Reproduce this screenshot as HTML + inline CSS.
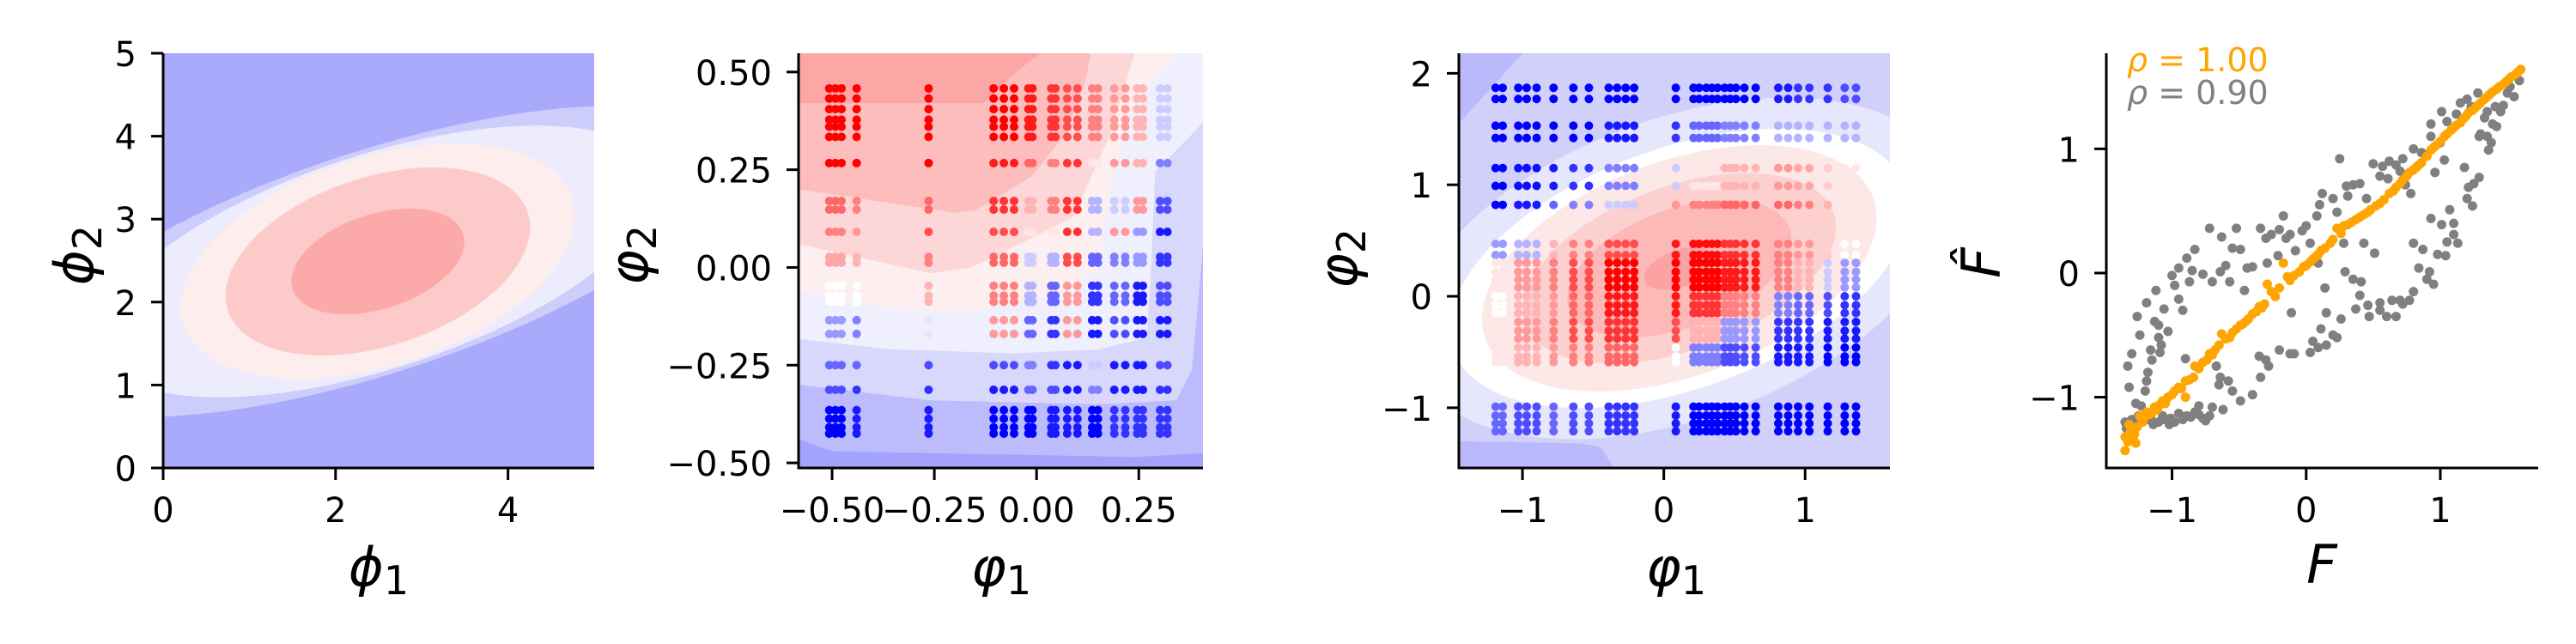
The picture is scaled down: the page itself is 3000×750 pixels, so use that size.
<!DOCTYPE html>
<html><head><meta charset="utf-8"><style>
html,body{margin:0;padding:0;background:#fff;}
svg{display:block;}
text{font-family:"DejaVu Sans","Liberation Sans",sans-serif;}
</style></head><body>
<svg id="fig" width="3000" height="750" viewBox="0 0 3000 750" xmlns="http://www.w3.org/2000/svg"></svg>
<script>
// ---------- data ----------
const p1Center = [2.49, 2.49];
const p1LevelA = [4.28, 3.38, 2.37, 1.83, 1.04];
const p1LevelB = [1.29, 1.24, 1.21, 0.98, 0.55];
const p1Colors = ['#cdcdfc', '#ececfd', '#fdeded', '#fdcaca', '#fca9a9'];
const p1XTicks = [0, 2, 4];
const p1YTicks = [0, 1, 2, 3, 4, 5];

const p2Bounds = [
  [[-0.582,-0.44],[-0.5,-0.47],[0.24,-0.485],[0.407,-0.475]],
  [[-0.582,-0.3],[-0.26,-0.34],[0.15,-0.35],[0.342,-0.34],[0.38,-0.26],[0.407,0.054]],
  [[-0.582,-0.183],[-0.36,-0.209],[-0.06,-0.22],[0.15,-0.21],[0.27,-0.18],[0.28,0.0],[0.29,0.245],[0.407,0.37]],
  [[-0.582,-0.06],[-0.36,-0.104],[-0.16,-0.115],[0.05,-0.07],[0.15,0.0],[0.19,0.245],[0.24,0.42],[0.342,0.548]],
  [[-0.582,0.06],[-0.26,-0.015],[-0.16,0.0],[-0.012,0.075],[0.09,0.13],[0.18,0.34],[0.24,0.548]],
  [[-0.582,0.2],[-0.2,0.14],[-0.15,0.146],[-0.012,0.233],[0.07,0.34],[0.12,0.48],[0.133,0.548]],
  [[-0.582,0.42],[-0.13,0.42],[-0.05,0.5],[0.01,0.548]]
];
const p2BandColors = ['#a3a3fb','#bcbcfd','#d8d8fd','#efeffd','#fdefef','#fdd7d7','#fdbdbd','#fca6a6'];
const p2ColGroups = [[-0.507,-0.492,-0.477],[-0.44],[-0.264],[-0.105,-0.08,-0.055],[-0.02,-0.01],[0.036,0.046],[0.075,0.10],[0.136,0.15],[0.19,0.217],[0.246,0.26],[0.302,0.32]];
const p2RowGroups = [[0.458,0.432,0.405,0.378,0.36,0.334],[0.267],[0.17,0.148],[0.091],[0.027,0.012],[-0.047,-0.072,-0.088],[-0.135,-0.17],[-0.25],[-0.313],[-0.365,-0.387,-0.409,-0.425]];
const p2Values = [
  [1,1,1,1,0.9,0.8,0.7,0.5,0.4,0.3,-0.2],
  [1,1,1,0.9,0.6,0.5,0.8,0.1,0.4,0.3,-0.5],
  [0.6,0.5,0.6,0.8,0.3,0.5,0.8,-0.3,-0.2,0.4,-0.7],
  [0.5,0.4,0.7,0.7,0.1,0.1,0.8,-0.3,0.4,-0.4,-0.9],
  [0.35,0.3,0.5,0.6,-0.2,-0.3,0.7,-0.6,-0.5,-0.4,-0.8],
  [0.0,0.0,0.3,0.5,-0.3,-0.6,0.4,-0.8,-0.6,-0.9,-0.7],
  [-0.4,-0.5,-0.1,0.4,-0.6,-0.8,0.4,-0.9,-0.7,-0.9,-0.9],
  [-0.6,-0.6,-0.7,-0.7,-0.5,-0.8,-0.9,-0.2,-0.9,-0.9,-0.7],
  [-0.7,-0.8,-0.8,-0.9,-0.6,-0.7,-0.9,-0.5,-0.9,-0.9,-0.8],
  [-1,-0.9,-0.9,-1,-1,-0.9,-0.9,-1,-0.8,-0.8,-0.8]
];
const p2XTicks = [-0.5, -0.25, 0, 0.25];
const p2XLabels = ['\u22120.50','\u22120.25','0.00','0.25'];
const p2YTicks = [-0.5, -0.25, 0, 0.25, 0.5];
const p2YLabels = ['\u22120.50','\u22120.25','0.00','0.25','0.50'];

const p3Center = [0.11, 0.25];
const p3LevelA = [2.0, 1.70, 1.46, 1.16, 0.83, 0.26];
const p3LevelB = [1.06, 0.85, 0.76, 0.58, 0.42, 0.13];
const p3Colors = ['#e6e6fd', '#ffffff', '#fde8e8', '#fdd0d0', '#fdb8b8', '#fca2a2'];
const p3Corners = [
  [[-1.45,-1.54],[-1.45,-1.3],[-0.6,-1.32],[-0.45,-1.35],[-0.35,-1.54]],
  [[-1.45,2.18],[-1.0,2.18],[-1.45,1.55]]
];
const p3ColGroups = [[-1.19,-1.14],[-1.03,-0.97,-0.90],[-0.78],[-0.64,-0.53],[-0.39,-0.33,-0.27,-0.21],[0.085],[0.21,0.25,0.30,0.34,0.38],[0.43,0.47,0.51,0.57,0.65],[0.81,0.88],[0.95,1.03],[1.16],[1.28,1.36]];
const p3RowGroups = [[1.87,1.77],[1.53,1.42],[1.15,0.99],[0.82],[0.47,0.37],[0.30,0.22,0.15,0.08],[0.0,-0.08,-0.15],[-0.23,-0.31,-0.38],[-0.46,-0.54,-0.59],[-0.99,-1.07,-1.14,-1.21]];
const p3Values = [
  [-1,-1,-1,-1,-1,-1,-1,-1,-0.9,-0.8,-0.8,-0.7],
  [-1,-1,-1,-1,-0.9,-0.8,-0.6,-0.5,-0.3,-0.3,-0.3,-0.3],
  [-1,-0.95,-0.9,-0.8,-0.5,-0.2,0.1,0.3,0.4,0.35,0.2,0.1],
  [-1,-0.9,-0.6,-0.5,-0.2,0.4,0.5,0.6,0.6,0.5,0.3,0.1],
  [-0.4,-0.3,0.3,0.5,0.7,0.9,0.95,0.8,0.5,0.4,0.2,0.0],
  [0.1,0.4,0.5,0.7,1,1,1,0.9,0.5,0.3,-0.2,-0.4],
  [0.0,0.3,0.4,0.6,0.9,0.9,0.8,0.5,-0.5,-0.6,-0.7,-0.8],
  [0.1,0.4,0.5,0.7,0.8,0.7,0.3,-0.4,-0.8,-0.8,-0.9,-0.9],
  [0.1,0.3,0.4,0.5,0.6,0.0,-0.5,-0.7,-0.9,-0.9,-1,-1],
  [-0.6,-0.7,-0.6,-0.7,-0.8,-0.9,-1,-1,-1,-1,-1,-1]
];
const p3XTicks = [-1, 0, 1];
const p3YTicks = [-1, 0, 1, 2];

const greyF = [-1.35,-1.32,-1.33,-1.30,-1.26,-1.19,-1.16,-1.13,-1.10,-1.09,-1.06,-1.12,-1.19,-1.00,-0.95,-0.89,-0.87,-0.83,-0.77,-0.72,-0.70,-0.63,-0.64,-0.57,-0.52,-0.49,-0.46,-0.44,-0.35,-0.34,-0.29,-0.26,-0.21,-0.17,-0.12,-0.11,-0.08,-0.03,0.03,0.08,0.09,0.12,0.14,0.15,0.23,0.25,0.28,0.29,0.31,0.35,0.40,0.43,0.41,0.51,0.55,0.57,0.61,0.64,0.67,0.72,0.74,0.77,0.78,0.80,0.84,0.87,0.92,0.93,0.95,0.96,1.01,1.04,1.07,1.10,1.13,1.21,1.24,1.29,1.30,1.36,1.39,1.41,1.47,1.50,1.01,0.93,0.86,1.03,1.15,1.23,1.35,0.93,-1.01,-0.95,-0.89,-0.83,-0.77,-0.72,-0.80,-1.07,-1.23,-0.49,-0.58,-0.64,-0.67,-0.28,-0.34,-0.12,-0.09,0.03,0.09,0.11,0.23,0.26,0.37,0.46,0.47,0.60,0.67,0.70,-0.90,-1.32,-1.16,-0.95,1.29,1.35,1.59];
const greyFhat = [-1.20,-0.92,-0.75,-0.65,-0.35,-0.24,-0.62,-0.39,-0.52,-0.64,-0.29,-0.14,-0.87,-0.02,-0.21,0.12,-0.07,0.19,-0.01,0.36,-0.07,0.29,0.01,-0.07,0.36,0.19,-0.14,0.04,-0.67,0.36,0.08,0.31,0.14,0.46,0.31,-0.32,0.18,0.34,0.24,0.46,0.08,0.64,-0.12,-0.32,0.49,0.92,0.24,0.01,0.62,0.71,0.72,0.24,-0.07,0.16,-0.24,0.86,0.76,-0.22,0.87,0.92,0.71,-0.22,0.64,0.24,0.04,0.19,0.01,0.44,-0.09,0.81,0.39,0.14,0.51,0.31,0.24,0.69,0.54,0.77,1.12,0.99,1.20,1.34,1.35,1.45,1.30,1.10,0.97,0.91,1.37,1.34,1.30,1.20,-1.17,-1.13,-1.15,-1.12,-1.17,-1.15,-1.07,-1.15,-1.07,-1.03,-0.87,-0.84,-0.75,-0.75,-0.84,-0.65,-0.65,-0.64,-0.60,-0.45,-0.52,-0.37,-0.29,-0.26,-0.35,-0.35,-0.35,-0.22,-0.69,-1.32,-1.17,0.04,1.10,1.10,1.55];
const greyF2 = [-1.34,-1.30,-1.28,-1.25,-1.22,-1.18,-1.14,-1.10,-1.05,-1.02,-0.98,-0.92,-0.86,-0.80,-0.75,-1.27,-1.20,-1.15,-1.08,-1.03,-1.18,-1.24,-1.10,-0.98,-0.92,-0.85,-0.60,-0.55,-0.40,-0.30,-0.20,-0.15,0.00,0.05,0.10,0.20,0.30,0.45,0.50,0.55,0.62,0.70,0.80,0.90,1.00,1.05,1.12,1.20,1.28,1.33,1.38,1.42,1.45,1.52,1.55,1.20,1.25,1.18,1.10,1.05,0.98,0.90,0.80,0.72,0.55,0.40,0.35,0.20,0.15,0.05,-0.20,-0.30,-0.40,-0.55,-0.65,-0.70,-0.62];
const greyFhat2 = [-1.25,-1.18,-1.22,-1.15,-1.20,-1.18,-1.22,-1.20,-1.18,-1.22,-1.20,-1.18,-1.16,-1.14,-1.19,-1.05,-0.95,-0.70,-0.58,-0.47,-0.80,-0.50,-0.42,-0.10,-0.30,0.02,0.06,0.20,0.05,0.28,0.35,0.28,0.38,0.10,0.55,0.60,0.70,0.60,0.88,0.78,0.90,0.82,1.00,0.95,1.05,1.22,1.28,1.40,1.45,1.25,1.05,1.18,1.30,1.50,1.42,0.60,0.72,0.85,0.40,0.25,0.15,-0.05,-0.15,-0.25,-0.30,-0.18,-0.05,-0.50,-0.58,-0.55,-0.62,-0.70,-0.98,-0.95,-0.90,-1.08,-1.10];
const orangeF = [-1.35,-1.35,-1.32,-1.27,-1.24,-1.19,-1.13,-1.07,-1.03,-0.98,-0.90,-0.90,-0.84,-0.83,-0.77,-0.72,-0.63,-0.57,-0.52,-0.43,-0.35,-0.29,-0.23,-0.17,-0.12,-0.05,0.03,0.11,0.18,0.23,0.34,0.43,0.52,0.58,0.67,0.77,0.86,0.93,1.03,1.12,1.21,1.30,1.39,1.49,1.58,-1.30,-1.28,-1.22,-1.15,-0.95,-0.68,-0.47,-0.31,-0.02,0.07,0.28,0.48,0.62,0.72,0.82,0.97,1.08,1.17,1.26,1.35,1.44,1.53];
const orangeFhat = [-1.43,-1.32,-1.22,-1.37,-1.15,-1.12,-1.08,-1.03,-1.00,-0.95,-0.87,-1.00,-0.84,-0.75,-0.72,-0.65,-0.49,-0.52,-0.45,-0.37,-0.27,-0.09,-0.19,0.08,-0.06,0.01,0.09,0.18,0.24,0.36,0.41,0.47,0.54,0.59,0.69,0.81,0.89,0.99,1.10,1.19,1.29,1.37,1.46,1.54,1.62,-1.25,-1.30,-1.20,-1.13,-0.92,-0.62,-0.41,-0.25,0.05,0.13,0.38,0.51,0.64,0.75,0.85,1.03,1.15,1.24,1.33,1.42,1.50,1.58];
const orangeF2 = [-1.33,-1.31,-1.29,-1.26,-1.21,-1.17,-1.11,-1.09,-1.05,-1.00,-0.93,-0.87,-0.80,-0.74,-0.70,-0.65,-0.60,-0.55,-0.49,-0.45,-0.40,-0.37,-0.33,-0.26,-0.20,-0.14,-0.09,0.00,0.05,0.09,0.14,0.20,0.26,0.31,0.37,0.40,0.46,0.55,0.65,0.70,0.75,0.80,0.84,0.90,0.95,1.00,1.05,1.10,1.15,1.19,1.24,1.28,1.33,1.37,1.42,1.47,1.51,1.56,1.60];
const orangeFhat2 = [-1.36,-1.28,-1.35,-1.24,-1.17,-1.14,-1.10,-1.06,-1.05,-0.98,-0.93,-0.86,-0.77,-0.70,-0.66,-0.58,-0.53,-0.48,-0.42,-0.39,-0.33,-0.31,-0.28,-0.15,-0.12,-0.03,-0.02,0.06,0.11,0.15,0.20,0.27,0.32,0.39,0.43,0.45,0.49,0.56,0.66,0.72,0.78,0.83,0.87,0.94,1.01,1.06,1.12,1.17,1.21,1.26,1.31,1.35,1.40,1.44,1.48,1.52,1.56,1.60,1.64];
const p4XTicks = [-1, 0, 1];
const p4YTicks = [-1, 0, 1];

// ---------- helpers ----------
const NS = 'http://www.w3.org/2000/svg';
const svg = document.getElementById('fig');
function mk(tag, attrs, parent) {
  const e = document.createElementNS(NS, tag);
  for (const k in attrs) e.setAttribute(k, attrs[k]);
  (parent || svg).appendChild(e);
  return e;
}
function scale(d0, d1, r0, r1) { return v => r0 + (v - d0) * (r1 - r0) / (d1 - d0); }
function bwr(v) {
  v = Math.max(-1, Math.min(1, v));
  if (v < 0) { const c = Math.round(255 * (1 + v)); return `rgb(${c},${c},255)`; }
  const c = Math.round(255 * (1 - v)); return `rgb(255,${c},${c})`;
}
function fmt(v) { return (v < 0 ? '\u2212' : '') + Math.abs(v); }

const panels = [
  {x0:190, x1:692, y0:62, y1:545, xd:[0,5], yd:[0,5]},
  {x0:930, x1:1401, y0:62, y1:545, xd:[-0.582,0.407], yd:[-0.513,0.548]},
  {x0:1699, x1:2201, y0:62, y1:545, xd:[-1.45,1.60], yd:[-1.54,2.18]},
  {x0:2453, x1:2956, y0:62, y1:545, xd:[-1.49,1.73], yd:[-1.57,1.77]}
];
panels.forEach((p, i) => {
  p.sx = scale(p.xd[0], p.xd[1], p.x0, p.x1);
  p.sy = scale(p.yd[0], p.yd[1], p.y1, p.y0);
  const cp = mk('clipPath', {id: 'clip' + i});
  mk('rect', {x: p.x0, y: p.y0, width: p.x1 - p.x0, height: p.y1 - p.y0}, cp);
});

function axes(p, g, xt, xl, yt, yl) {
  const ax = mk('g', {}, g);
  
  
  const ys = mk('line', {x1: p.x0, y1: p.y0, x2: p.x0, y2: p.y1 + 1.5, stroke: '#000', 'stroke-width': 3}, ax);
  
  
  const xs = mk('line', {x1: p.x0 - 1.5, y1: p.y1, x2: p.x1, y2: p.y1, stroke: '#000', 'stroke-width': 3}, ax);
  
  
  xt.forEach((v, k) => {
    const x = p.sx(v);
    mk('line', {x1: x, y1: p.y1, x2: x, y2: p.y1 + 14, stroke: '#000', 'stroke-width': 3}, ax);
    const t = mk('text', {x: x, y: p.y1 + 63, 'text-anchor': 'middle', 'font-size': 40}, ax);
    
    
    t.textContent = xl ? xl[k] : fmt(v);
  });
  yt.forEach((v, k) => {
    const y = p.sy(v);
    mk('line', {x1: p.x0 - 14, y1: y, x2: p.x0, y2: y, stroke: '#000', 'stroke-width': 3}, ax);
    const t = mk('text', {x: p.x0 - 31, y: y + 15, 'text-anchor': 'end', 'font-size': 40}, ax);
    
    
    t.textContent = yl ? yl[k] : fmt(v);
  });
}
function label(x, y, sym, sub, rot, name) {
  const t = mk('text', {x: x, y: y, 'text-anchor': 'middle', 'font-size': 62,
    transform: rot ? `rotate(-90 ${x} ${y})` : ''});
  
  
  const a = mk('tspan', {'font-style': 'italic'}, t); a.textContent = sym;
  if (sub) { const b = mk('tspan', {'font-size': 46, dy: 10}, t); b.textContent = sub; }
  return t;
}
function ellipses(p, g, center, A, B, colors, ang) {
  const cx = p.sx(center[0]), cy = p.sy(center[1]);
  const k = (p.x1 - p.x0) / (p.xd[1] - p.xd[0]);
  A.forEach((a, i) => {
    const e = mk('ellipse', {cx: cx, cy: cy, rx: a * k, ry: B[i] * k, fill: colors[i],
      transform: `rotate(${-ang} ${cx} ${cy})`}, g);
    
    
  });
}
function gridPoints(p, g, cols, rows, vals, r) {
  rows.forEach((rg, ri) => rg.forEach(yv => cols.forEach((cg, ci) => cg.forEach(xv => {
    const c = mk('circle', {cx: p.sx(xv), cy: p.sy(yv), r: r, fill: bwr(vals[ri][ci])}, g);
    
    
  }))));
}

// ---------- panel 1 ----------
(function () {
  const p = panels[0];
  const g = mk('g', {});
  
  
  const c = mk('g', {'clip-path': 'url(#clip0)'}, g);
  mk('rect', {x: p.x0, y: p.y0, width: p.x1 - p.x0, height: p.y1 - p.y0, fill: '#aaaafd'}, c);
  ellipses(p, c, p1Center, p1LevelA, p1LevelB, p1Colors, 18);
  axes(p, g, p1XTicks, null, p1YTicks, null);
  label(441, 682, '\u03D5', '1', false, 'x-axis-title');
  label(108, 297, '\u03D5', '2', true, 'y-axis-title');
})();

// ---------- panel 2 ----------
(function () {
  const p = panels[1];
  const g = mk('g', {});
  
  
  const c = mk('g', {'clip-path': 'url(#clip1)'}, g);
  mk('rect', {x: p.x0, y: p.y0, width: p.x1 - p.x0, height: p.y1 - p.y0, fill: p2BandColors[0]}, c);
  p2Bounds.forEach((b, i) => {
    const pts = b.slice();
    const last = pts[pts.length - 1];
    if (last[1] < p.yd[1] - 1e-6) pts.push([p.xd[1], p.yd[1]]);
    pts.push([p.xd[0], p.yd[1]]);
    const poly = mk('polygon', {points: pts.map(q => p.sx(q[0]) + ',' + p.sy(q[1])).join(' '), fill: p2BandColors[i + 1]}, c);
    
    
  });
  gridPoints(p, c, p2ColGroups, p2RowGroups, p2Values, 5);
  axes(p, g, p2XTicks, p2XLabels, p2YTicks, p2YLabels);
  label(1166, 682, '\u03C6', '1', false, 'x-axis-title');
  label(754, 297, '\u03C6', '2', true, 'y-axis-title');
})();

// ---------- panel 3 ----------
(function () {
  const p = panels[2];
  const g = mk('g', {});
  
  
  const c = mk('g', {'clip-path': 'url(#clip2)'}, g);
  mk('rect', {x: p.x0, y: p.y0, width: p.x1 - p.x0, height: p.y1 - p.y0, fill: '#d0d0fb'}, c);
  p3Corners.forEach(b => {
    const poly = mk('polygon', {points: b.map(q => p.sx(q[0]) + ',' + p.sy(q[1])).join(' '), fill: '#b9b9fb'}, c);
    
    
  });
  ellipses(p, c, p3Center, p3LevelA, p3LevelB, p3Colors, 20);
  gridPoints(p, c, p3ColGroups, p3RowGroups, p3Values, 5);
  axes(p, g, p3XTicks, null, p3YTicks, null);
  label(1952, 682, '\u03C6', '1', false, 'x-axis-title');
  label(1580, 301, '\u03C6', '2', true, 'y-axis-title');
})();

// ---------- panel 4 ----------
(function () {
  const p = panels[3];
  const g = mk('g', {});
  
  
  const c = mk('g', {}, g);
  greyF.concat(greyF2).forEach((v, i) => {
    const yv = greyFhat.concat(greyFhat2)[i];
    const d = mk('circle', {cx: p.sx(v), cy: p.sy(yv), r: 5.5, fill: '#808080'}, c);
    
    
  });
  orangeF.concat(orangeF2).forEach((v, i) => {
    const yv = orangeFhat.concat(orangeFhat2)[i];
    const d = mk('circle', {cx: p.sx(v), cy: p.sy(yv), r: 5.5, fill: '#ffa500'}, c);
    
    
  });
  axes(p, g, p4XTicks, null, p4YTicks, null);
  const t1 = mk('text', {x: 2477, y: 83, 'font-size': 38, fill: '#ffa500'});
  
  
  mk('tspan', {'font-style': 'italic'}, t1).textContent = '\u03C1';
  mk('tspan', {}, t1).textContent = ' = 1.00';
  const t2 = mk('text', {x: 2477, y: 121, 'font-size': 38, fill: '#808080'});
  
  
  mk('tspan', {'font-style': 'italic'}, t2).textContent = '\u03C1';
  mk('tspan', {}, t2).textContent = ' = 0.90';
  const xl = mk('text', {x: 2704, y: 679, 'text-anchor': 'middle', 'font-size': 62, 'font-style': 'italic'});
  
  
  xl.textContent = 'F';
  const yl = mk('text', {x: 2329, y: 306, 'text-anchor': 'middle', 'font-size': 62, 'font-style': 'italic', transform: 'rotate(-90 2329 306)'});
  
  
  yl.textContent = 'F\u0302';
})();
</script>
</body></html>
